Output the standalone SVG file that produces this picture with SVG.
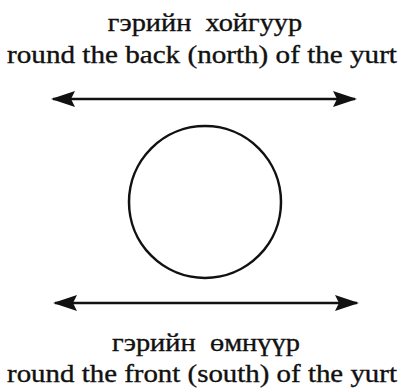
<svg xmlns="http://www.w3.org/2000/svg" width="402" height="391" viewBox="0 0 402 391">
<style>
text{font-family:"Liberation Serif","DejaVu Serif",serif;fill:#111;stroke:#111;stroke-width:0.35;font-size:25px;text-anchor:middle}
.ln{stroke:#111;stroke-width:2.5;fill:none}
</style>
<defs>
<marker id="ah" viewBox="0 0 24 16" refX="22" refY="8" markerWidth="24" markerHeight="16" markerUnits="userSpaceOnUse" orient="auto-start-reverse">
<path d="M0,0 L24,8 L0,16 L4,8 Z" fill="#111"/>
</marker>
</defs>
<rect width="402" height="391" fill="#fff"/>
<g id="label-north">
<text transform="translate(205,31) scale(1.08,1)" textLength="180" lengthAdjust="spacingAndGlyphs" xml:space="preserve">гэрийн  хойгуур</text>
<text transform="translate(202,63) scale(1.157,1)" textLength="337" lengthAdjust="spacingAndGlyphs">round the back (north) of the yurt</text>
</g>
<g id="yurt">
<circle cx="205" cy="202" r="76" class="ln" stroke-width="2.8"/>
</g>
<g id="label-south">
<text transform="translate(206,351) scale(1.08,1)" textLength="174" lengthAdjust="spacingAndGlyphs" xml:space="preserve">гэрийн  өмнүүр</text>
<text transform="translate(202,382) scale(1.157,1)" textLength="337" lengthAdjust="spacingAndGlyphs">round the front (south) of the yurt</text>
</g>
<g id="connectors">
<line x1="53" y1="99" x2="355" y2="99" class="ln" marker-start="url(#ah)" marker-end="url(#ah)"/>
<line x1="55" y1="303" x2="357" y2="303" class="ln" marker-start="url(#ah)" marker-end="url(#ah)"/>
</g>
</svg>
